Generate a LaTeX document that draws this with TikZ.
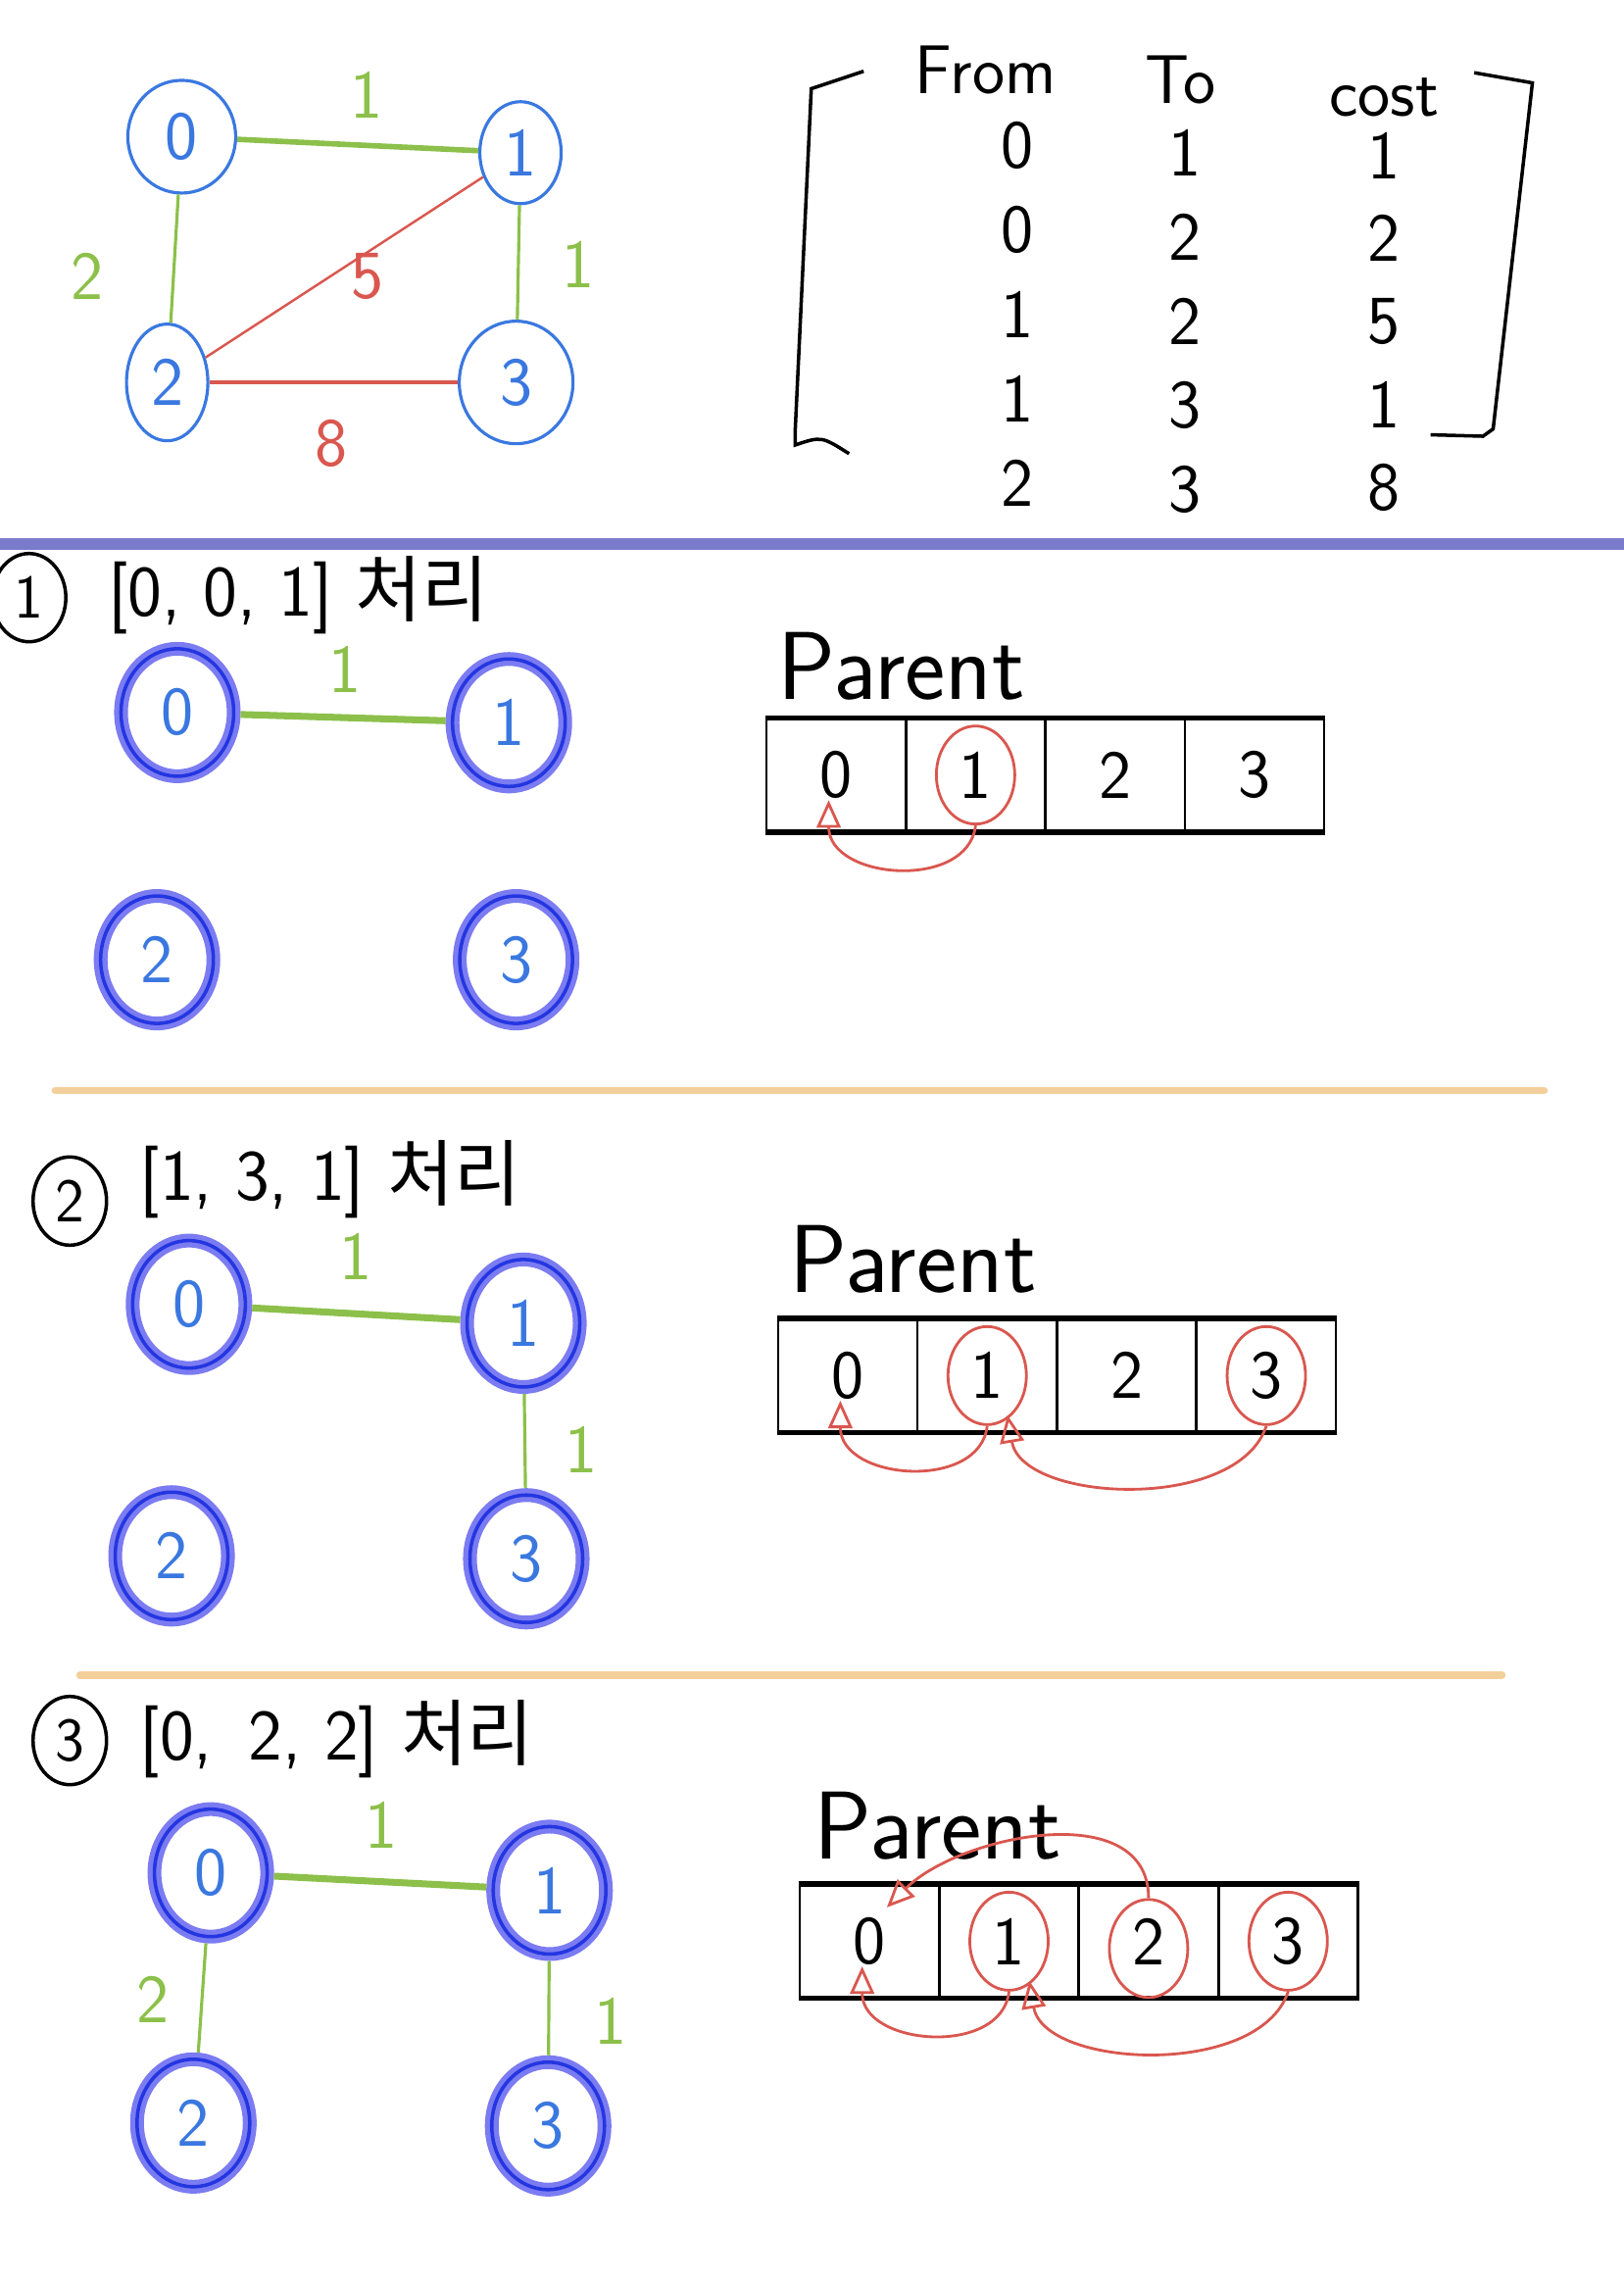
\documentclass[tikz,border=0pt]{standalone}
\usepackage{fontspec}
\newfontfamily\krfont{Noto Sans CJK KR}
\usetikzlibrary{shapes.geometric,arrows.meta,calc}

\definecolor{nodeblue}{HTML}{3A78E0}
\definecolor{edgegreen}{HTML}{8CC04A}
\definecolor{markred}{HTML}{D9574F}
\definecolor{ringpale}{HTML}{7B7BF2}
\definecolor{ringdark}{HTML}{2336E0}
\definecolor{rulepurple}{HTML}{7B7BCC}
\definecolor{ruleorange}{HTML}{F3CF9C}

\tikzset{
  hand/.style={font=\sffamily\fontsize{20}{24}\selectfont},
  vtx/.style={ellipse, draw=nodeblue, line width=0.9pt, text=nodeblue, hand,
    minimum width=0.95cm, minimum height=1.15cm, inner sep=0pt},
  visited/.style={ellipse, draw=ringpale, line width=4pt, text=nodeblue, hand,
    minimum width=1.15cm, minimum height=1.3cm, inner sep=0pt,
    postaction={draw=ringdark, line width=1pt}},
  gline/.style={edgegreen, line width=0.9pt},
  mainline/.style={edgegreen, line width=2pt},
  rline/.style={markred, line width=0.7pt},
  wlabel/.style={text=edgegreen, hand},
  cell/.style={rectangle, draw, line width=0.7pt, minimum width=1.42cm,
    minimum height=1.14cm, inner sep=0pt, hand},
  ring/.style={ellipse, draw=markred, line width=0.8pt, minimum width=0.8cm,
    minimum height=1.0cm},
  parentarrow/.style={markred, line width=0.8pt,
    -{Triangle[open,length=8pt,width=7pt]}},
  title/.style={font=\sffamily\fontsize{21}{25}\selectfont, anchor=west},
  badge/.style={ellipse, draw, line width=1pt, inner sep=0pt,
    minimum width=0.75cm, minimum height=0.9cm, font=\sffamily\fontsize{18}{20}\selectfont},
  bigword/.style={font=\sffamily\fontsize{28}{32}\selectfont}
}

\begin{document}
\begin{tikzpicture}[x=0.014834cm,y=-0.014834cm]
\useasboundingbox (0,0) rectangle (1117,1568);

% input graph
\node[vtx, minimum width=1.1cm] (a0) at (125,94) {0};
\node[vtx, minimum width=0.83cm, minimum height=1.04cm] (a1) at (358,105) {1};
\node[vtx, minimum width=0.83cm, minimum height=1.19cm] (a2) at (115,263) {2};
\node[vtx, minimum width=1.16cm, minimum height=1.25cm] (a3) at (355,263) {3};
\draw[gline, line width=1.6pt] (a0) -- (a1);
\draw[gline] (a0) -- (a2);
\draw[gline] (a1) -- (a3);
\draw[rline] (a1) -- (a2);
\draw[rline, line width=1pt] (a3) -- (a2);
\node[wlabel] (w01) at (252,65) {1};
\node[wlabel] (w02) at (60,190) {2};
\node[wlabel] (w13) at (398,182) {1};
\node[hand, text=markred] (w12) at (253,190) {5};
\node[hand, text=markred] (w23) at (228,305) {8};

% edge list
\draw[line width=1pt] (594,49) -- (558,61) -- (547,295) -- (547,306)
  .. controls (565,300) .. (584,312);
\draw[line width=1pt] (1014,50) -- (1054,57) -- (1027,295) -- (1020,300) -- (984,299);
\node[hand] (hfrom) at (678,48) {From};
\node[hand] (hto) at (812,55) {To};
\node[hand] (hcost) at (952,67) {cost};
\foreach \f/\t/\c [count=\r] in {0/1/1, 0/2/2, 1/2/5, 1/3/1, 2/3/8} {
  \node[hand] (from\r) at (700,42+58*\r) {\f};
  \node[hand] (to\r) at (815,47+58*\r) {\t};
  \node[hand] (cost\r) at (952,50+57*\r) {\c};
}

\draw[rulepurple, line width=3.4pt] (0,374) -- (1117,374);

% step 1
\node[badge] (n1) at (20,411) {1};
\node[title] (t1) at (66,409) {[0, 0, 1] {\krfont 처리}};
\node[visited] (b0) at (122,490) {0};
\node[visited] (b1) at (350,497) {1};
\node[visited] (b2) at (108,660) {2};
\node[visited] (b3) at (355,660) {3};
\draw[mainline] (b0) -- (b1);
\node[wlabel] (x01) at (237,460) {1};
\node[bigword] (par1) at (620,458) {Parent};
\node[cell] (s1c0) at (575,533) {0};
\node[cell] (s1c1) at (671,533) {1};
\node[cell] (s1c2) at (767,533) {2};
\node[cell] (s1c3) at (863,533) {3};
\draw[line width=1.6pt] (s1c0.north west) -- (s1c3.north east);
\draw[line width=1.6pt] (s1c0.south west) -- (s1c3.south east);
\node[ring] (s1r1) at (671,533) {};
\draw[parentarrow] (s1r1.south) .. controls +(-5,45) and +(0,55) .. ($(s1c0.south)+(-5,-22)$);

\draw[ruleorange, line width=2.2pt, line cap=round] (38,750) -- (1062,750);

% step 2
\node[badge] (n2) at (48,826) {2};
\node[title] (t2) at (88,811) {[1, 3, 1] {\krfont 처리}};
\node[visited] (c0) at (130,897) {0};
\node[visited] (c1) at (360,910) {1};
\node[visited] (c2) at (118,1070) {2};
\node[visited] (c3) at (362,1072) {3};
\draw[mainline] (c0) -- (c1);
\draw[gline] (c1) -- (c3);
\node[wlabel] (y01) at (245,864) {1};
\node[wlabel] (y13) at (400,997) {1};
\node[bigword] (par2) at (628,866) {Parent};
\node[cell] (s2c0) at (583,946) {0};
\node[cell] (s2c1) at (679,946) {1};
\node[cell] (s2c2) at (775,946) {2};
\node[cell] (s2c3) at (871,946) {3};
\draw[line width=1.6pt] (s2c0.north west) -- (s2c3.north east);
\draw[line width=1.6pt] (s2c0.south west) -- (s2c3.south east);
\node[ring] (s2r1) at (679,946) {};
\node[ring] (s2r3) at (871,946) {};
\draw[parentarrow] (s2r1.south) .. controls +(-5,45) and +(0,55) .. ($(s2c0.south)+(-5,-22)$);
\draw[parentarrow] (s2r3.south) .. controls +(-20,60) and +(10,60) .. ($(s2c1.south)+(14,-12)$);

\draw[ruleorange, line width=2.2pt, line cap=round] (55,1152) -- (1033,1152);

% step 3
\node[badge] (n3) at (48,1197) {3};
\node[title] (t3) at (88,1196) {[0,\enspace 2, 2] {\krfont 처리}};
\node[visited] (d0) at (145,1288) {0};
\node[visited] (d1) at (378,1300) {1};
\node[visited] (d2) at (133,1460) {2};
\node[visited] (d3) at (377,1462) {3};
\draw[mainline] (d0) -- (d1);
\draw[gline] (d0) -- (d2);
\draw[gline] (d1) -- (d3);
\node[wlabel] (z01) at (262,1255) {1};
\node[wlabel] (z02) at (105,1375) {2};
\node[wlabel] (z13) at (420,1390) {1};
\node[bigword] (par3) at (645,1256) {Parent};
\node[cell] (s3c0) at (598,1335) {0};
\node[cell] (s3c1) at (694,1335) {1};
\node[cell] (s3c2) at (790,1335) {2};
\node[cell] (s3c3) at (886,1335) {3};
\draw[line width=1.6pt] (s3c0.north west) -- (s3c3.north east);
\draw[line width=1.6pt] (s3c0.south west) -- (s3c3.south east);
\node[ring] (s3r1) at (694,1335) {};
\node[ring] (s3r2) at (790,1340) {};
\node[ring] (s3r3) at (886,1335) {};
\draw[parentarrow] (s3r1.south) .. controls +(-5,45) and +(0,55) .. ($(s3c0.south)+(-5,-22)$);
\draw[parentarrow] (s3r3.south) .. controls +(-20,60) and +(10,60) .. ($(s3c1.south)+(14,-12)$);
\draw[parentarrow] (s3r2.north) .. controls +(0,-70) and +(50,-50) .. ($(s3c0.north)+(12,16)$);

\end{tikzpicture}
\end{document}
